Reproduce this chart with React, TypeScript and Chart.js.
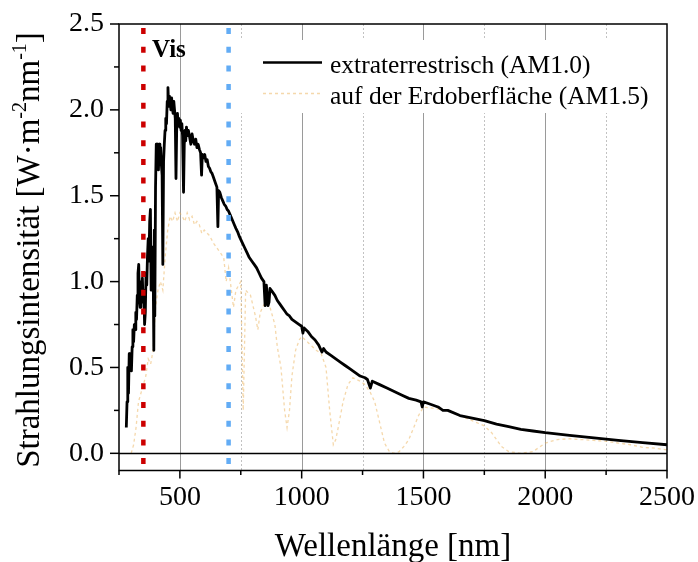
import React, { useEffect, useRef } from 'react';
import { Chart, registerables } from 'chart.js';

Chart.register(...registerables);

const FONT = "'Liberation Serif', 'Times New Roman', serif";

// Extraterrestrial spectrum (AM1.0 label in the reference)
const AM0_WAVELENGTH = [
  280, 283, 286, 289, 292, 295, 298, 301, 304, 307,
  310, 313, 316, 319, 322, 325, 328, 331, 334, 337,
  340, 343, 346, 349, 352, 355, 358, 361, 364, 367,
  370, 373, 376, 379, 382, 385, 388, 391, 393, 395,
  397, 400, 403, 406, 409, 412, 415, 418, 421, 424,
  427, 430, 433, 436, 439, 442, 445, 448, 451, 454,
  457, 460, 463, 466, 469, 472, 475, 478, 481, 484,
  487, 490, 493, 496, 499, 502, 505, 508, 511, 515,
  518, 521, 524, 527, 530, 535, 540, 545, 550, 555,
  560, 565, 570, 575, 580, 585, 589, 592, 597, 602,
  607, 612, 617, 622, 627, 632, 637, 642, 647, 652,
  656, 659, 664, 670, 676, 682, 688, 694, 700, 706,
  712, 718, 724, 730, 737, 745, 755, 765, 775, 785,
  795, 805, 815, 825, 835, 845, 850, 855, 862, 866,
  870, 880, 890, 900, 910, 920, 930, 940, 950, 960,
  970, 980, 990, 1000, 1005, 1010, 1025, 1040, 1055, 1070,
  1083, 1090, 1100, 1120, 1140, 1160, 1180, 1200, 1220, 1240,
  1260, 1270, 1282, 1290, 1320, 1350, 1380, 1410, 1440, 1470,
  1490, 1495, 1500, 1520, 1560, 1580, 1600, 1650, 1700, 1750,
  1800, 1850, 1900, 1950, 2000, 2100, 2200, 2300, 2400, 2500,
];
const AM0_VALUES = [
  0.15, 0.30, 0.50, 0.35, 0.58, 0.52, 0.55, 0.48, 0.62, 0.72,
  0.65, 0.75, 0.72, 0.82, 0.78, 0.92, 1.05, 1.10, 0.90, 0.85,
  1.00, 0.92, 1.02, 0.88, 0.95, 0.75, 0.82, 1.05, 0.98, 1.15,
  1.25, 1.12, 1.35, 1.42, 0.95, 1.15, 1.20, 0.95, 0.60, 1.30,
  0.80, 1.55, 1.80, 1.72, 1.80, 1.65, 1.80, 1.70, 1.78, 1.68,
  1.62, 1.10, 1.70, 1.80, 1.88, 1.95, 1.92, 2.05, 2.13, 2.02,
  2.08, 2.05, 2.00, 2.07, 2.02, 1.98, 2.05, 2.00, 1.95, 1.60,
  1.90, 1.98, 1.92, 1.95, 1.90, 1.94, 1.88, 1.92, 1.85, 1.52,
  1.80, 1.88, 1.82, 1.90, 1.85, 1.88, 1.84, 1.80, 1.86, 1.82,
  1.80, 1.83, 1.78, 1.80, 1.77, 1.75, 1.62, 1.74, 1.72, 1.74,
  1.70, 1.71, 1.67, 1.66, 1.64, 1.63, 1.61, 1.59, 1.57, 1.55,
  1.32, 1.53, 1.52, 1.49, 1.47, 1.45, 1.44, 1.42, 1.41, 1.39,
  1.37, 1.35, 1.33, 1.31, 1.29, 1.26, 1.23, 1.20, 1.17, 1.14,
  1.12, 1.10, 1.08, 1.05, 1.02, 1.00, 0.86, 0.98, 0.86, 0.88,
  0.96, 0.94, 0.92, 0.89, 0.87, 0.85, 0.83, 0.81, 0.80, 0.78,
  0.77, 0.76, 0.75, 0.74, 0.70, 0.73, 0.71, 0.68, 0.66, 0.63,
  0.59, 0.61, 0.59, 0.57, 0.55, 0.53, 0.51, 0.49, 0.47, 0.45,
  0.44, 0.43, 0.38, 0.42, 0.40, 0.38, 0.36, 0.34, 0.32, 0.31,
  0.30, 0.27, 0.30, 0.29, 0.27, 0.25, 0.25, 0.22, 0.205, 0.19,
  0.17, 0.155, 0.14, 0.13, 0.12, 0.105, 0.09, 0.075, 0.062, 0.05,
];

// Spectrum at the Earth's surface (AM1.5)
const AM15_WAVELENGTH = [
  300, 310, 320, 330, 340, 350, 360, 370, 380, 390,
  400, 410, 420, 430, 440, 450, 460, 470, 480, 490,
  500, 510, 520, 530, 540, 550, 560, 570, 580, 590,
  600, 620, 640, 660, 680, 690, 700, 720, 730, 750,
  760, 770, 790, 810, 820, 830, 850, 870, 890, 900,
  915, 930, 940, 950, 960, 975, 990, 1000, 1030, 1060,
  1080, 1100, 1115, 1130, 1140, 1150, 1170, 1190, 1210, 1240,
  1260, 1280, 1300, 1320, 1340, 1360, 1380, 1400, 1420, 1440,
  1460, 1480, 1500, 1550, 1600, 1650, 1700, 1750, 1780, 1800,
  1820, 1850, 1900, 1950, 1980, 2000, 2050, 2100, 2150, 2200,
  2250, 2300, 2350, 2400, 2450, 2500,
];
const AM15_VALUES = [
  0.0, 0.05, 0.15, 0.30, 0.35, 0.40, 0.45, 0.55, 0.52, 0.60,
  0.85, 0.95, 1.00, 0.95, 1.15, 1.30, 1.38, 1.35, 1.40, 1.35,
  1.40, 1.38, 1.35, 1.40, 1.36, 1.38, 1.33, 1.35, 1.33, 1.28,
  1.30, 1.27, 1.22, 1.18, 1.14, 1.00, 1.08, 0.85, 0.95, 1.00,
  0.25, 0.95, 0.92, 0.80, 0.72, 0.82, 0.88, 0.85, 0.75, 0.62,
  0.50, 0.25, 0.15, 0.25, 0.45, 0.60, 0.66, 0.68, 0.64, 0.60,
  0.58, 0.50, 0.25, 0.05, 0.08, 0.15, 0.30, 0.40, 0.44, 0.42,
  0.40, 0.36, 0.30, 0.18, 0.06, 0.01, 0.0, 0.01, 0.04, 0.08,
  0.15, 0.22, 0.27, 0.26, 0.25, 0.22, 0.19, 0.16, 0.12, 0.08,
  0.04, 0.01, 0.0, 0.01, 0.04, 0.06, 0.08, 0.085, 0.08, 0.075,
  0.07, 0.06, 0.05, 0.035, 0.03, 0.02,
];

const SERIES_LABELS = ['extraterrestrisch (AM1.0)', 'auf der Erdoberfläche (AM1.5)'];
const X_MAJOR_TICKS = [500, 1000, 1500, 2000, 2500];
const X_MINOR_TICKS = [250, 750, 1250, 1750, 2250];
const Y_MAJOR_TICKS = [0, 0.5, 1.0, 1.5, 2.0, 2.5];
const Y_MINOR_TICKS = [0.25, 0.75, 1.25, 1.75, 2.25];
const VIS_BOUNDS = [350, 700];
const VIS_LABEL = 'Vis';
const X_TITLE = 'Wellenlänge [nm]';
const Y_TITLE_PARTS = [
  { text: 'Strahlungsintensität [W·m', sup: false },
  { text: '-2', sup: true },
  { text: 'nm', sup: false },
  { text: '-1', sup: true },
  { text: ']', sup: false },
];

const AM0_POINTS = AM0_WAVELENGTH.map((w, i) => ({ x: w, y: AM0_VALUES[i] }));
const AM15_POINTS = AM15_WAVELENGTH.map((w, i) => ({ x: w, y: AM15_VALUES[i] }));

const zeroScalePadding = (s: any) => {
  s.paddingTop = 0;
  s.paddingBottom = 0;
  s.paddingLeft = 0;
  s.paddingRight = 0;
};

const decorPlugin = {
  id: 'decor',
  beforeDatasetsDraw(chart: any) {
    const { ctx, chartArea: a, scales } = chart;
    const x = scales.x;
    ctx.save();
    ctx.lineWidth = 1;
    X_MAJOR_TICKS.forEach((v) => {
      const px = Math.round(x.getPixelForValue(v)) + 0.5;
      if (px > a.right - 2) return;
      ctx.strokeStyle = '#9a9a9a';
      ctx.setLineDash([]);
      ctx.beginPath();
      ctx.moveTo(px, a.top);
      ctx.lineTo(px, a.bottom);
      ctx.stroke();
    });
    X_MINOR_TICKS.forEach((v) => {
      const px = Math.round(x.getPixelForValue(v)) + 0.5;
      if (px < a.left + 2) return;
      ctx.strokeStyle = '#c2c2c2';
      ctx.setLineDash([2, 2]);
      ctx.beginPath();
      ctx.moveTo(px, a.top);
      ctx.lineTo(px, a.bottom);
      ctx.stroke();
    });
    ctx.setLineDash([]);
    // legend background box
    ctx.fillStyle = '#ffffff';
    ctx.fillRect(236, 40, 418, 73);
    ctx.restore();
  },
  afterDatasetsDraw(chart: any) {
    const { ctx, chartArea: a, scales } = chart;
    const x = scales.x;
    const y = scales.y;
    ctx.save();

    // Vis boundaries
    const visColors = ['#cc0000', '#62acf5'];
    VIS_BOUNDS.forEach((v, i) => {
      const px = x.getPixelForValue(v);
      ctx.strokeStyle = visColors[i];
      ctx.lineWidth = 4.5;
      ctx.setLineDash([6, 12.7]);
      ctx.lineDashOffset = 14.7;
      ctx.beginPath();
      ctx.moveTo(px, a.top);
      ctx.lineTo(px, a.bottom);
      ctx.stroke();
    });
    ctx.setLineDash([]);
    ctx.lineDashOffset = 0;
    ctx.fillStyle = '#000';
    ctx.font = `bold 25px ${FONT}`;
    ctx.textAlign = 'left';
    ctx.textBaseline = 'alphabetic';
    ctx.fillText(VIS_LABEL, 152, 57);

    // legend
    ctx.font = `25.5px ${FONT}`;
    chart.data.datasets.forEach((ds: any, i: number) => {
      const ly = 62.5 + i * 31;
      ctx.strokeStyle = ds.borderColor;
      ctx.lineWidth = i === 0 ? 2.7 : 1.5;
      ctx.setLineDash(ds.borderDash || []);
      ctx.beginPath();
      ctx.moveTo(263, ly);
      ctx.lineTo(322, ly);
      ctx.stroke();
      ctx.setLineDash([]);
      ctx.fillStyle = '#000';
      ctx.fillText(ds.label, 330, 72.5 + i * 31.5);
    });

    // zero line
    const y0 = Math.round(y.getPixelForValue(0)) + 0.5;
    ctx.strokeStyle = '#000';
    ctx.lineWidth = 1.5;
    ctx.beginPath();
    ctx.moveTo(a.left, y0);
    ctx.lineTo(a.right, y0);
    ctx.stroke();

    // frame
    ctx.strokeRect(a.left, a.top, a.right - a.left, a.bottom - a.top);

    // ticks
    ctx.lineWidth = 1.5;
    Y_MAJOR_TICKS.forEach((v) => {
      const py = y.getPixelForValue(v);
      ctx.beginPath();
      ctx.moveTo(a.left - 9, py);
      ctx.lineTo(a.left, py);
      ctx.stroke();
    });
    Y_MINOR_TICKS.forEach((v) => {
      const py = y.getPixelForValue(v);
      ctx.beginPath();
      ctx.moveTo(a.left - 5, py);
      ctx.lineTo(a.left, py);
      ctx.stroke();
    });
    X_MAJOR_TICKS.forEach((v) => {
      const px = x.getPixelForValue(v);
      ctx.beginPath();
      ctx.moveTo(px, a.bottom);
      ctx.lineTo(px, a.bottom + 8);
      ctx.stroke();
    });
    X_MINOR_TICKS.forEach((v) => {
      const px = x.getPixelForValue(v);
      ctx.beginPath();
      ctx.moveTo(px, a.bottom);
      ctx.lineTo(px, a.bottom + 4.5);
      ctx.stroke();
    });

    // x title
    ctx.fillStyle = '#000';
    ctx.font = `33px ${FONT}`;
    ctx.textAlign = 'center';
    ctx.textBaseline = 'alphabetic';
    ctx.fillText(X_TITLE, (a.left + a.right) / 2, 556);

    // y title with superscripts
    const mainFont = `33px ${FONT}`;
    const supFont = `20px ${FONT}`;
    let total = 0;
    const widths = Y_TITLE_PARTS.map((p) => {
      ctx.font = p.sup ? supFont : mainFont;
      const w = ctx.measureText(p.text).width;
      total += w;
      return w;
    });
    ctx.translate(39, 250);
    ctx.rotate(-Math.PI / 2);
    ctx.textAlign = 'left';
    let cx = -total / 2;
    Y_TITLE_PARTS.forEach((p, i) => {
      ctx.font = p.sup ? supFont : mainFont;
      ctx.fillText(p.text, cx, p.sup ? -13 : 0);
      cx += widths[i];
    });
    ctx.restore();
  },
};

export default function App() {
  const canvasRef = useRef<HTMLCanvasElement | null>(null);

  useEffect(() => {
    if (!canvasRef.current) return;
    const chart = new Chart(canvasRef.current, {
      type: 'line',
      data: {
        datasets: [
          {
            label: SERIES_LABELS[0],
            data: AM0_POINTS,
            borderColor: '#000000',
            borderWidth: 2.8,
            pointRadius: 0,
            tension: 0,
            borderJoinStyle: 'round',
            fill: false,
          },
          {
            label: SERIES_LABELS[1],
            data: AM15_POINTS,
            borderColor: 'rgba(236,178,88,0.5)',
            borderWidth: 1.3,
            borderDash: [3, 3],
            pointRadius: 0,
            tension: 0,
            fill: false,
          },
        ],
      } as any,
      options: {
        responsive: false,
        animation: false,
        events: [],
        layout: { padding: { top: 24, right: 31, left: 0, bottom: 0 } },
        plugins: {
          legend: { display: false },
          tooltip: { enabled: false },
          title: { display: false },
        },
        scales: {
          x: {
            type: 'linear',
            min: 250,
            max: 2500,
            afterBuildTicks: (s: any) => {
              s.ticks = X_MAJOR_TICKS.map((v) => ({ value: v }));
            },
            afterFit: (s: any) => {
              s.height = 91.5;
              zeroScalePadding(s);
            },
            grid: { display: false, drawTicks: false },
            border: { display: false },
            ticks: {
              autoSkip: false,
              maxRotation: 0,
              padding: 10,
              color: '#000',
              font: { family: FONT, size: 28 },
              callback: (v: any) => String(v),
            },
          },
          y: {
            type: 'linear',
            min: -0.1,
            max: 2.5,
            afterBuildTicks: (s: any) => {
              s.ticks = Y_MAJOR_TICKS.map((v) => ({ value: v }));
            },
            afterFit: (s: any) => {
              s.width = 119;
              zeroScalePadding(s);
            },
            grid: { display: false, drawTicks: false },
            border: { display: false },
            ticks: {
              autoSkip: false,
              padding: 15,
              color: '#000',
              font: { family: FONT, size: 28 },
              callback: (v: any) => Number(v).toFixed(1),
            },
          },
        },
      } as any,
      plugins: [decorPlugin],
    });
    return () => chart.destroy();
  }, []);

  return (
    <div style={{ position: 'absolute', left: 0, top: 0, width: 698, height: 562, background: '#fff' }}>
      <canvas ref={canvasRef} width={698} height={562} style={{ width: 698, height: 562 }} />
    </div>
  );
}
